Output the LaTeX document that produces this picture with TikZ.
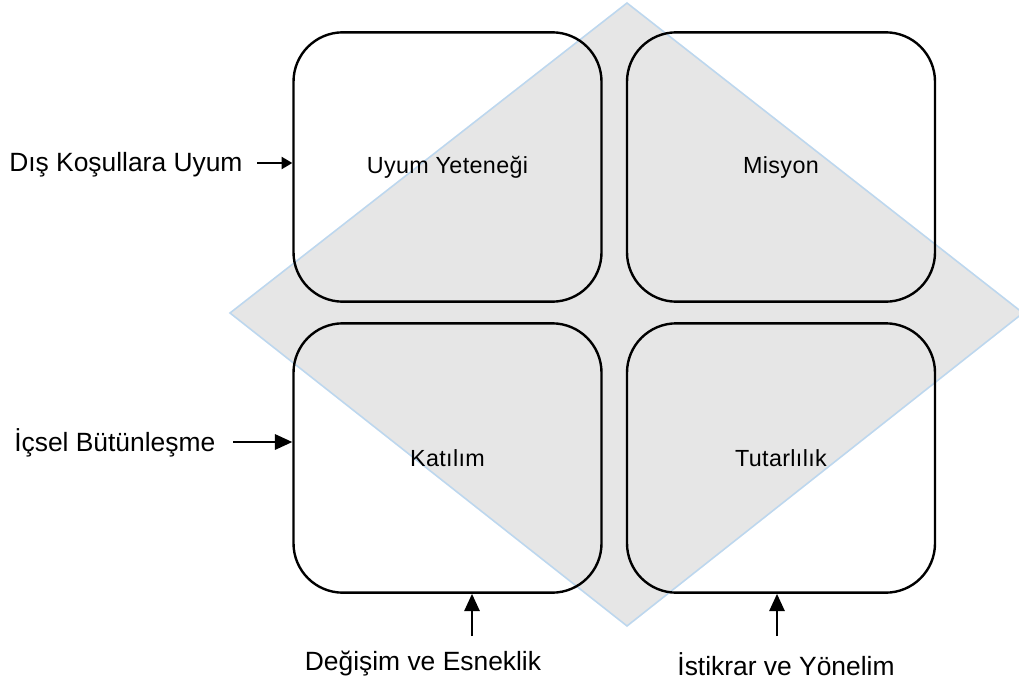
\documentclass[tikz,border=0pt]{standalone}
\usepackage{fontspec}
\setmainfont{Liberation Sans}
\usetikzlibrary{arrows.meta}
\definecolor{diamondfill}{HTML}{E6E6E6}
\definecolor{diamondedge}{HTML}{BDD7EE}
\begin{document}
\begin{tikzpicture}[x=0.75pt,y=-0.75pt,
  quad/.style={draw=black,line width=1.8pt,rounded corners=37pt,
    minimum width=231pt,minimum height=202pt,inner sep=0pt,
    font=\fontsize{17.5}{21}\selectfont\addfontfeature{LetterSpace=1.5}},
  side/.style={font=\fontsize{19.8}{24}\selectfont,inner sep=0pt},
  pointer/.style={line width=1.6pt,-{Triangle[length=13pt,width=11.5pt]}},
  smallpointer/.style={line width=1.6pt,-{Triangle[length=8pt,width=9pt]}}]
\useasboundingbox (0,0) rectangle (1019,681);

% background diamond
\filldraw[fill=diamondfill,draw=diamondedge,line width=1.2pt]
  (627,3) -- (1023,313) -- (627,626) -- (230,313) -- cycle;

% four quadrants
\node[quad] (uyum) at (447.5,167) {Uyum Yeteneği};
\node[quad] (misyon) at (781,167) {Misyon};
\node[quad] (katilim) at (447.5,458) {Katılım};
\node[quad] (tutar) at (781,458) {Tutarlılık};

% side labels
\node[side,anchor=west] (dis) at (9,165) {Dış Koşullara Uyum};
\node[side,anchor=west] (icsel) at (14,443) {İçsel Bütünleşme};
\node[side] (degisim) at (423,664) {Değişim ve Esneklik};
\node[side] (istikrar) at (786,664) {İstikrar ve Yönelim};

% arrows into the quadrants
\coordinate (disT) at (257,163);
\coordinate (icselT) at (233,442);
\coordinate (degT) at (472,636);
\coordinate (istT) at (777,636);
\draw[smallpointer] (disT) -- (disT -| uyum.west);
\draw[pointer] (icselT) -- (icselT -| katilim.west);
\draw[pointer] (degT) -- (degT |- katilim.south);
\draw[pointer] (istT) -- (istT |- tutar.south);
\end{tikzpicture}
\end{document}
